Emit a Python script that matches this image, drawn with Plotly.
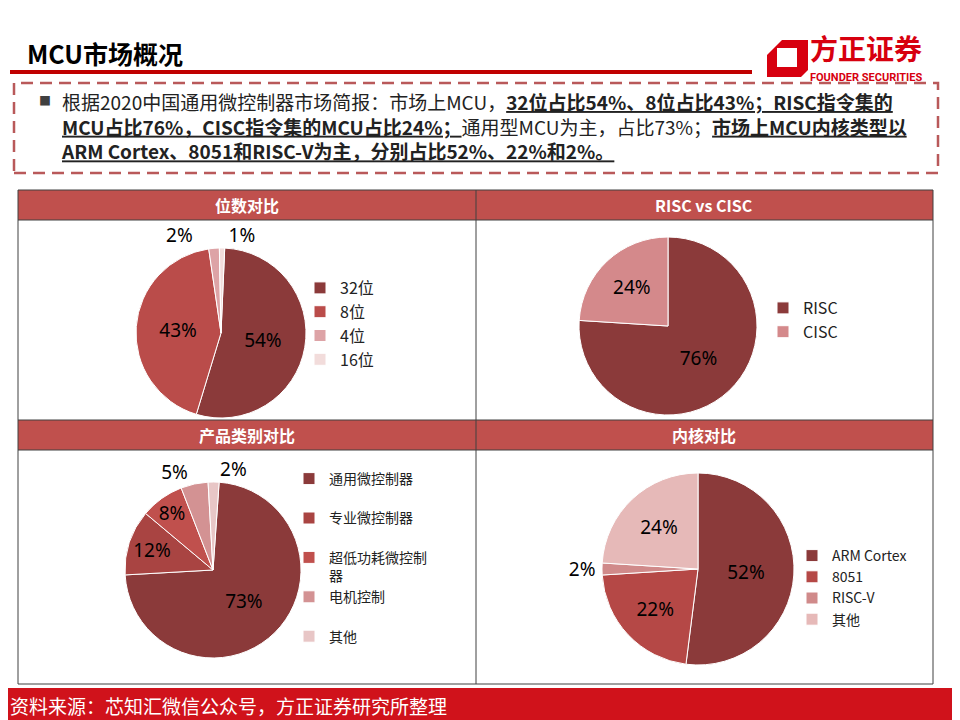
import plotly.graph_objects as go

W, H = 960, 720
OFF = 8  # the page body margin shifts the figure by this many pixels


def px(x):
    return (x - OFF) / W


def py(y):
    return 1 - (y - OFF) / H


# ---------------- data ----------------
bits_labels = ["32位", "8位", "4位", "16位"]
bits_values = [54, 43, 2, 1]

isa_labels = ["RISC", "CISC"]
isa_values = [76, 24]

type_labels = ["通用微控制器", "专业微控制器", "超低功耗微控制器", "电机控制", "其他"]
type_values = [73, 12, 8, 5, 2]
type_legend_text = ["通用微控制器", "专业微控制器", "超低功耗微控制<br>器", "电机控制", "其他"]

core_labels = ["ARM Cortex", "8051", "RISC-V", "其他"]
core_values = [52, 22, 2, 24]

panel_titles = ["位数对比", "RISC vs CISC", "产品类别对比", "内核对比"]

# ---------------- style ----------------
FONT = "Noto Sans CJK SC, Noto Sans, sans-serif"
DARK = "#8B3A3A"
HEADER = "#C0504D"
BORDER = "#404040"
LOGO_RED = "#D7000F"

bits_colors = [DARK, "#BA4C4A", "#DDA3A6", "#F2DCDB"]
isa_colors = [DARK, "#D4898B"]
type_colors = [DARK, "#A94442", "#C0504D", "#D39293", "#E8C6C6"]
core_colors = [DARK, "#B54846", "#D08A8A", "#E6B9B8"]

NB = "\u00a0"


def dom(cx, cy, r):
    return dict(x=[px(cx - r), px(cx + r)], y=[py(cy + r), py(cy - r)])


def pie(labels, values, colors, domain, positions, legend, templates=None, rotation=0):
    return go.Pie(
        labels=labels,
        values=values,
        sort=False,
        direction="clockwise",
        rotation=rotation,
        marker=dict(colors=colors, line=dict(color="white", width=1)),
        texttemplate=templates if templates is not None else "%{value}%",
        textposition=positions,
        insidetextorientation="horizontal",
        textfont=dict(size=19, color="black", family="Noto Sans, sans-serif"),
        domain=domain,
        legend=legend,
        hoverinfo="label+value",
        showlegend=True,
    )


type_names = [t if "<br>" in t else t + "<br> " for t in type_legend_text]

fig = go.Figure()
fig.add_trace(pie(bits_labels, bits_values, bits_colors, dom(221, 333, 85),
                  ["inside", "inside", "outside", "outside"], "legend",
                  ["%{value}%", "%{value}%", "%{value}%" + NB * 3, "%{value}%"],
                  rotation=2.5))
fig.add_trace(pie(isa_labels, isa_values, isa_colors, dom(668, 326, 89),
                  ["inside", "inside"], "legend2"))
fig.add_trace(pie(type_names, type_values, type_colors, dom(213, 570, 88),
                  ["inside", "inside", "inside", "outside", "outside"], "legend3",
                  ["%{value}%"] * 4 + ["%{value}%"],
                  rotation=4))
fig.add_trace(pie(core_labels, core_values, core_colors, dom(698, 569, 96),
                  ["inside", "inside", "outside", "inside"], "legend4"))

shapes = []
# panel headers
for y0, y1 in [(190, 220), (420, 450)]:
    shapes.append(dict(type="rect", xref="paper", yref="paper",
                       x0=px(18), x1=px(933), y0=py(y1), y1=py(y0),
                       fillcolor=HEADER, line=dict(width=0), layer="below"))
# grid lines
for y in [190, 220, 420, 450, 684]:
    shapes.append(dict(type="line", xref="paper", yref="paper",
                       x0=px(18), x1=px(933), y0=py(y), y1=py(y),
                       line=dict(color=BORDER, width=1)))
for x in [18, 476, 933]:
    shapes.append(dict(type="line", xref="paper", yref="paper",
                       x0=px(x), x1=px(x), y0=py(190), y1=py(684),
                       line=dict(color=BORDER, width=1)))
# title underline
shapes.append(dict(type="line", xref="paper", yref="paper",
                   x0=px(10), x1=px(752), y0=py(72), y1=py(72),
                   line=dict(color="#C00000", width=4)))
# dashed box
shapes.append(dict(type="rect", xref="paper", yref="paper",
                   x0=px(14), x1=px(938), y0=py(173), y1=py(83),
                   line=dict(color="#B9595A", width=2.5, dash="12px,7px")))
# logo icon
logo_pts = [(782, 40), (808, 40), (808, 70), (801, 77), (767, 77), (767, 55)]
path = "M " + " L ".join("%f,%f" % (px(x), py(y)) for x, y in logo_pts) + " Z"
shapes.append(dict(type="path", xref="paper", yref="paper", path=path,
                   fillcolor=LOGO_RED, line=dict(width=0)))
shapes.append(dict(type="rect", xref="paper", yref="paper",
                   x0=px(777), x1=px(797), y0=py(67), y1=py(48),
                   fillcolor="white", line=dict(width=0)))
# footer
shapes.append(dict(type="rect", xref="paper", yref="paper",
                   x0=px(0), x1=px(980), y0=py(740), y1=py(688),
                   fillcolor="#D0121B", line=dict(width=0), layer="below"))

annotations = []


def ann(text, x, y, size, color="black", xanchor="left", bold=False, family=FONT,
        yanchor="middle", align="left"):
    annotations.append(dict(text=("<b>%s</b>" % text) if bold else text,
                            x=px(x), y=py(y), xref="paper", yref="paper",
                            xanchor=xanchor, yanchor=yanchor, showarrow=False, align=align,
                            font=dict(size=size, color=color, family=family)))


ann("MCU市场概况", 25, 53, 25, bold=True)
ann("方正证券", 866, 70, 28, color=LOGO_RED, xanchor="center", bold=True, yanchor="bottom")
ann("FOUNDER SECURITIES", 866, 69, 11, color=LOGO_RED, xanchor="center", bold=True,
    family="Roboto, Noto Sans, sans-serif", yanchor="top")

ann("■", 37, 101, 12, color="#404040")
ann("根据2020中国通用微控制器市场简报：市场上MCU，"
    "<b><u>32位占比54%、8位占比43%；RISC指令集的</u></b><br>"
    "<b><u>MCU占比76%，CISC指令集的MCU占比24%；</u></b>"
    "通用型MCU为主，占比73%；<b><u>市场上MCU内核类型以</u></b><br>"
    "<b><u>ARM Cortex、8051和RISC-V为主，分别占比52%、22%和2%。</u></b>",
    59, 126, 19, color="#222222")

ann(panel_titles[0], 247, 205, 16, color="white", xanchor="center", bold=True)
ann(panel_titles[1], 704, 205, 16, color="white", xanchor="center", bold=True)
ann(panel_titles[2], 247, 435, 16, color="white", xanchor="center", bold=True)
ann(panel_titles[3], 704, 435, 16, color="white", xanchor="center", bold=True)

ann("资料来源：芯知汇微信公众号，方正证券研究所整理", 8, 705, 19, color="white")


def leg(x, y, size):
    return dict(x=px(x), y=py(y), xanchor="left", yanchor="top",
                bgcolor="rgba(0,0,0,0)", font=dict(size=size, color="#222222", family=FONT),
                valign="top", itemclick=False, itemdoubleclick=False)


fig.update_layout(
    width=W, height=H,
    margin=dict(l=0, r=0, t=0, b=0),
    paper_bgcolor="white",
    plot_bgcolor="white",
    font=dict(family=FONT),
    shapes=shapes,
    annotations=annotations,
    uniformtext=dict(minsize=19, mode="show"),
    legend=leg(300, 271, 16),
    legend2=leg(763, 291, 16),
    legend3=leg(289, 463, 14),
    legend4=leg(792, 540, 14),
)

fig.write_html("out.html")
